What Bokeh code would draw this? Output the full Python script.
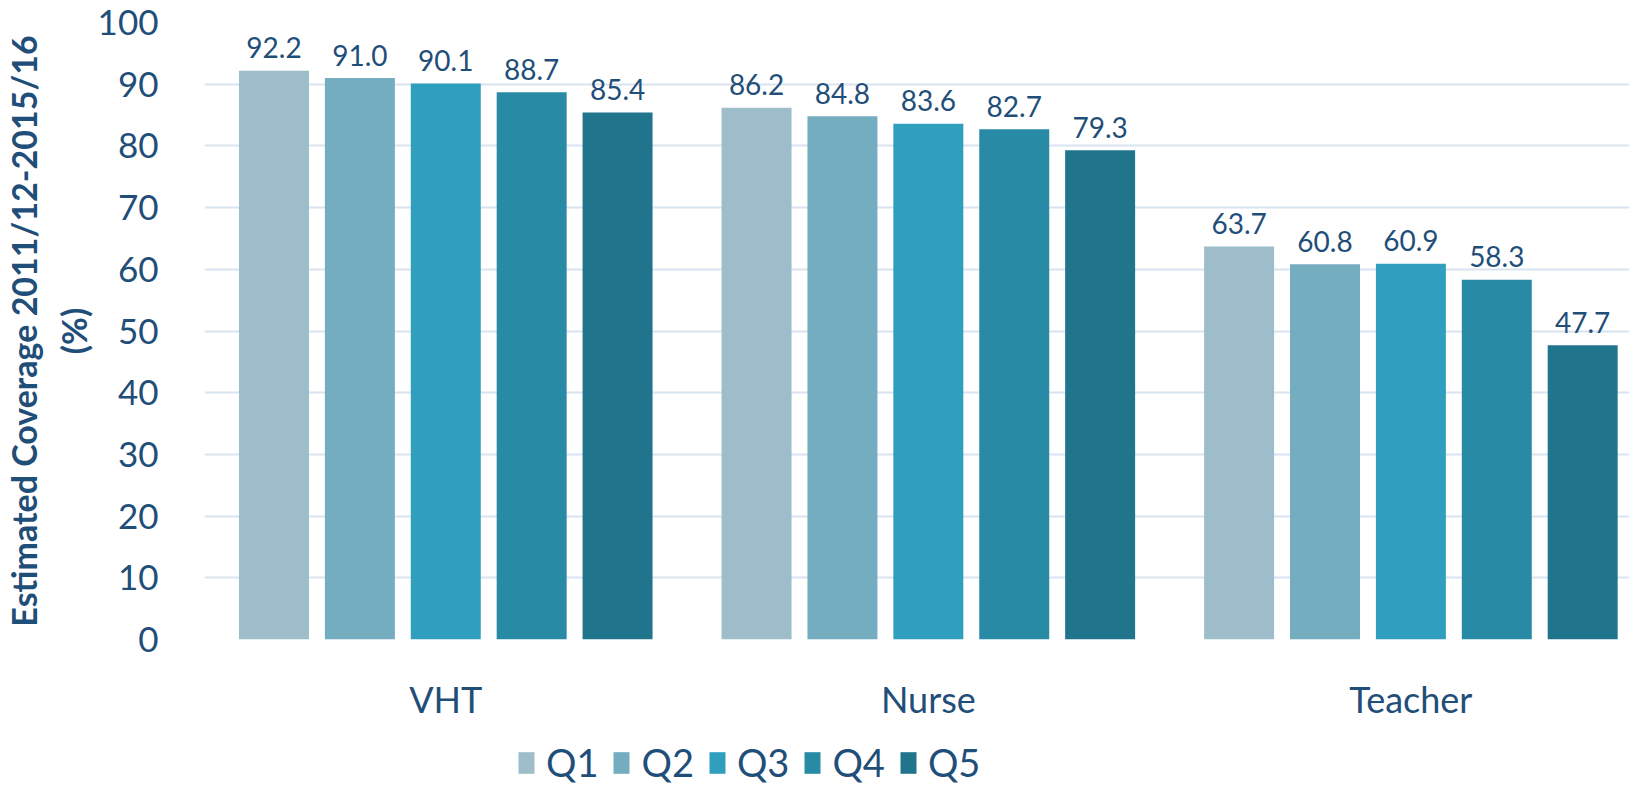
from bokeh.plotting import figure
from bokeh.layouts import column
from bokeh.models import ColumnDataSource, Range1d, FixedTicker, Legend, LegendItem
from bokeh.embed import file_html
from bokeh.resources import INLINE
from bokeh.core.properties import value

categories = ["VHT", "Nurse", "Teacher"]
quintiles = ["Q1", "Q2", "Q3", "Q4", "Q5"]
q1 = [92.2, 86.2, 63.7]
q2 = [91.0, 84.8, 60.8]
q3 = [90.1, 83.6, 60.9]
q4 = [88.7, 82.7, 58.3]
q5 = [85.4, 79.3, 47.7]
series = [q1, q2, q3, q4, q5]
y_ticks = [0, 10, 20, 30, 40, 50, 60, 70, 80, 90, 100]
colors = ["#9CBDC9", "#74ACC0", "#309FBE", "#298AA6", "#20758C"]

TXT = "#1F4E79"
FONT = "Lato"

p = figure(frame_width=1425, frame_height=617, output_backend="svg", toolbar_location=None,
           x_range=Range1d(0, 2.953), y_range=Range1d(0, 100),
           min_border_left=200, min_border_right=0, min_border_top=22,
           min_border_bottom=79)
p.outline_line_color = None
p.background_fill_color = "white"
p.border_fill_color = "white"

step = 0.178
width = 0.145
for j, (q, vals, c) in enumerate(zip(quintiles, series, colors)):
    xs = [i + 0.5 + (j - 2) * step for i in range(len(categories))]
    src = ColumnDataSource(dict(x=xs, top=vals, lab=[f"{v:.1f}" for v in vals]))
    p.vbar(x="x", top="top", width=width, bottom=0, source=src,
           fill_color=c, line_color=None)
    p.text(x="x", y="top", text="lab", source=src, text_align="center",
           text_baseline="alphabetic", y_offset=-23, text_color=TXT,
           text_font=value(FONT), text_font_size="28px")

p.xgrid.grid_line_color = None
p.ygrid.grid_line_color = "#D9E3F1"
p.ygrid.grid_line_width = 2
p.yaxis.ticker = FixedTicker(ticks=y_ticks)
p.xaxis.ticker = FixedTicker(ticks=[i + 0.5 for i in range(len(categories))])
p.xaxis.major_label_overrides = {i + 0.5: c for i, c in enumerate(categories)}

for ax in (p.xaxis, p.yaxis):
    ax.axis_line_color = None
    ax.major_tick_line_color = None
    ax.minor_tick_line_color = None
    ax.major_label_text_color = TXT
    ax.major_label_text_font = FONT

p.yaxis.major_label_text_font_size = "35px"
p.yaxis.major_label_standoff = 40
p.yaxis.axis_label = "Estimated Coverage 2011/12-2015/16\n(%)"
p.yaxis.axis_label_text_font = FONT
p.yaxis.axis_label_text_font_style = "bold"
p.yaxis.axis_label_text_font_size = "34px"
p.yaxis.axis_label_text_color = TXT
p.yaxis.axis_label_standoff = 1

p.xaxis.major_label_text_font_size = "36px"
p.xaxis.major_label_standoff = 31

# legend strip below the chart (frame aligned with the chart's frame)
lf = figure(width=1625, height=64, output_backend="svg", toolbar_location=None,
            x_axis_type=None, y_axis_type=None, x_range=Range1d(0, 1), y_range=Range1d(0, 1),
            min_border=0)
lf.outline_line_color = None
lf.xgrid.grid_line_color = None
lf.ygrid.grid_line_color = None
items = []
for q, c in zip(quintiles, colors):
    r = lf.vbar(x=[0], top=[0], bottom=[0], width=0.01, fill_color=c, line_color=None)
    items.append(LegendItem(label=q, renderers=[r]))
legend = Legend(items=items, orientation="horizontal", location=(312, 2),
                glyph_width=20, glyph_height=27, label_standoff=10, spacing=13,
                label_text_font=FONT, label_text_font_size="38px",
                label_text_color=TXT, padding=0, margin=0,
                border_line_color=None, background_fill_alpha=0)
lf.add_layout(legend)

layout = column(p, lf, spacing=0)
open("out.html", "w").write(file_html(layout, INLINE))
